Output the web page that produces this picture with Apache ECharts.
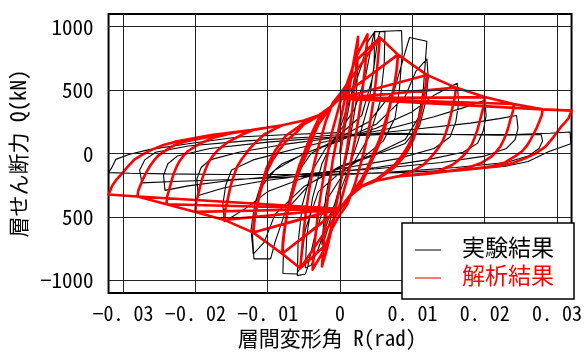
<!DOCTYPE html>
<html>
<head>
<meta charset="utf-8">
<script src="https://cdn.jsdelivr.net/npm/echarts@6/dist/echarts.min.js"></script>
<style>
  html, body { margin: 0; padding: 0; background: #fff; }
  #chart { width: 585px; height: 354px; }
</style>
</head>
<body>
<div id="chart"></div>
<script>
// 目盛り
var xTicks = [-0.03, -0.02, -0.01, 0, 0.01, 0.02, 0.03];
var xTickLabels = ['−0. 03', '−0. 02', '−0. 01', '0', '0. 01', '0. 02', '0. 03'];
var yTicks = [-1000, -500, 0, 500, 1000];
var yTickLabels = ['−1000', '500', '0', '500', '1000'];

// 実験結果 [R(rad), Q(kN)]  サイクルごと
var test1 = [[0, 0], [0.001, 300], [0.002, 600], [0.0025, 750], [0.0022, 400], [0.0012, 50], [0, -250], [-0.001, -450], [-0.002, -650], [-0.0025, -720], [-0.002, -350], [-0.001, -50], [0, 200]];
var test2 = [[0.0015, 450], [0.003, 700], [0.0038, 880], [0.0048, 962], [0.0047, 700], [0.004, 400], [0.0025, 100], [0.001, -150], [0, -300], [-0.0015, -500], [-0.003, -750], [-0.004, -880], [-0.0048, -900], [-0.0046, -650], [-0.0038, -350], [-0.0025, -80], [-0.001, 100], [0, 180]];
var test3 = [[0.002, 350], [0.0035, 600], [0.0045, 900], [0.0048, 962], [0.0062, 960], [0.0061, 700], [0.0055, 400], [0.004, 130], [0.002, -60], [0, -200], [-0.002, -380], [-0.0035, -650], [-0.0045, -900], [-0.0048, -950], [-0.0059, -962], [-0.0058, -700], [-0.0052, -400], [-0.004, -150], [-0.002, 40], [0, 150]];
var test4 = [[0.003, 300], [0.0045, 600], [0.0052, 900], [0.0055, 962], [0.0085, 970], [0.0086, 800], [0.0082, 500], [0.0076, 280], [0.006, 100], [0.003, -40], [0, -150], [-0.003, -300], [-0.0048, -600], [-0.0055, -900], [-0.006, -950], [-0.0079, -946], [-0.0078, -700], [-0.0072, -400], [-0.0062, -180], [-0.004, 0], [0, 130]];
var test5 = [[0.004, 250], [0.0075, 500], [0.009, 800], [0.0096, 915], [0.012, 885], [0.0118, 730], [0.0115, 500], [0.0108, 280], [0.009, 110], [0.005, 0], [0, -100], [-0.004, -230], [-0.0075, -450], [-0.009, -700], [-0.0096, -830], [-0.0119, -830], [-0.0121, -650], [-0.0117, -450], [-0.011, -270], [-0.009, -130], [-0.005, 0], [0, 100]];
var test6 = [[0.005, 230], [0.009, 450], [0.0105, 650], [0.012, 746], [0.0122, 600], [0.0118, 400], [0.011, 220], [0.009, 80], [0.004, -30], [0, -110], [-0.005, -260], [-0.009, -480], [-0.0105, -700], [-0.012, -792], [-0.0123, -600], [-0.0118, -400], [-0.0108, -220], [-0.008, -80], [-0.004, 20], [0, 110]];
var test7 = [[0.005, 200], [0.01, 330], [0.013, 460], [0.015, 520], [0.0162, 554], [0.0164, 400], [0.016, 250], [0.0152, 130], [0.013, 40], [0.008, -40], [0, -120], [-0.005, -190], [-0.01, -300], [-0.013, -430], [-0.016, -538], [-0.0162, -400], [-0.0158, -250], [-0.015, -130], [-0.012, -50], [-0.006, 40], [0, 120]];
var test8 = [[0.007, 200], [0.013, 290], [0.017, 360], [0.02, 420], [0.0202, 300], [0.0198, 180], [0.019, 80], [0.017, 10], [0.012, -50], [0.005, -110], [-0.003, -160], [-0.01, -210], [-0.016, -270], [-0.0196, -330], [-0.0198, -200], [-0.0192, -110], [-0.018, -50], [-0.014, 10], [-0.008, 70], [0, 130]];
var test9 = [[0.01, 190], [0.018, 240], [0.022, 275], [0.0244, 300], [0.0246, 200], [0.0242, 110], [0.023, 40], [0.02, -20], [0.014, -70], [0.005, -120], [-0.005, -160], [-0.015, -210], [-0.021, -255], [-0.0242, -290], [-0.0244, -170], [-0.0238, -80], [-0.0225, -20], [-0.018, 40], [-0.01, 90], [0, 135]];
var test10 = [[0.006, 150], [0.015, 150], [0.022, 145], [0.026, 148], [0.0278, 150], [0.028, 100], [0.0275, 40], [0.026, -20], [0.023, -70], [0.016, -110], [0.006, -150], [-0.005, -180], [-0.015, -205], [-0.023, -220], [-0.0274, -231], [-0.0277, -130], [-0.027, -50], [-0.0255, 10], [-0.021, 60], [-0.013, 100], [-0.004, 130], [0, 150]];
var test11 = [[0.008, 160], [0.016, 150], [0.024, 150], [0.029, 160], [0.0318, 170], [0.0319, 77], [0.0288, 15], [0.026, -62], [0.0229, -100], [0.016, -130], [0.008, -150], [0, -160], [-0.008, -165], [-0.016, -165], [-0.024, -160], [-0.029, -155], [-0.032, -150], [-0.0316, -115], [-0.031, -46], [-0.0292, -8], [-0.0264, 31], [-0.021, 77], [-0.0141, 130], [-0.007, 150], [0, 165]];

// 解析結果 [R(rad), Q(kN)]  サイクルごと
var ana1 = [[0, 0], [0.001, 400], [0.0018, 700], [0.0025, 920], [0.0022, 650], [0.0017, 350], [0.001, 50], [0, -250], [-0.001, -550], [-0.0018, -750], [-0.0025, -890], [-0.0022, -650], [-0.0017, -350], [-0.001, -50], [0, 250]];
var ana2 = [[0.001, 520], [0.002, 740], [0.0038, 940], [0.0035, 700], [0.003, 450], [0.0022, 150], [0.0012, -150], [0, -400], [-0.001, -540], [-0.002, -740], [-0.0038, -915], [-0.0035, -700], [-0.003, -450], [-0.0022, -150], [-0.0012, 150], [0, 400]];
var ana3 = [[0.001, 560], [0.002, 720], [0.0055, 915], [0.0053, 780], [0.005, 600], [0.0047, 450], [0.0043, 300], [0.004, 200], [0.0035, 60], [0.003, -50], [0.002, -250], [0.001, -400], [0, -480], [-0.001, -580], [-0.002, -720], [-0.0055, -905], [-0.0053, -780], [-0.005, -600], [-0.0047, -450], [-0.0043, -300], [-0.004, -200], [-0.0035, -60], [-0.003, 50], [-0.002, 250], [-0.001, 400], [0, 470]];
var ana4 = [[0.0055, 915], [0.008, 780], [0.0079, 690], [0.0077, 600], [0.0074, 500], [0.007, 400], [0.0066, 300], [0.0062, 200], [0.0056, 100], [0.005, 20], [0.004, -110], [0.003, -230], [0.0015, -330], [0, -440], [-0.0055, -905], [-0.008, -790], [-0.0079, -690], [-0.0077, -600], [-0.0074, -500], [-0.007, -400], [-0.0066, -300], [-0.0062, -200], [-0.0056, -90], [-0.005, 0], [-0.004, 150], [-0.003, 270], [-0.0015, 360], [0, 440]];
var ana4b = [[0.008, 780], [0.0078, 650], [0.0075, 540], [0.0071, 430], [0.0066, 320], [0.006, 200], [0.0053, 90], [0.0046, 0], [0.0038, -110], [0.003, -200], [0.0015, -320], [0, -430], [-0.008, -790], [-0.0078, -650], [-0.0075, -540], [-0.0071, -430], [-0.0066, -320], [-0.006, -200], [-0.0053, -90], [-0.0046, 0], [-0.0038, 120], [-0.003, 230], [-0.0015, 350], [0, 440]];
var ana5 = [[0.008, 780], [0.012, 620], [0.0119, 530], [0.0116, 450], [0.0113, 360], [0.011, 280], [0.0106, 200], [0.0102, 120], [0.0096, 50], [0.009, -10], [0.0082, -65], [0.0075, -110], [0.006, -170], [0.005, -210], [0.003, -260], [0.0015, -330], [0, -435], [-0.008, -790], [-0.012, -623], [-0.0119, -530], [-0.0116, -450], [-0.0113, -360], [-0.011, -280], [-0.0106, -200], [-0.0102, -120], [-0.0096, -45], [-0.009, 20], [-0.0082, 85], [-0.0075, 140], [-0.006, 200], [-0.005, 245], [-0.003, 300], [-0.0015, 360], [0, 435]];
var ana5b = [[0.012, 620], [0.0118, 520], [0.0115, 420], [0.0111, 320], [0.0106, 220], [0.01, 130], [0.0093, 50], [0.0085, -20], [0.0075, -90], [0.006, -160], [0.005, -205], [0.003, -255], [0.0015, -325], [0, -430], [-0.012, -623], [-0.0118, -520], [-0.0115, -420], [-0.0111, -320], [-0.0106, -220], [-0.01, -130], [-0.0093, -50], [-0.0085, 20], [-0.0075, 95], [-0.006, 170], [-0.005, 230], [-0.003, 295], [-0.0015, 355], [0, 435]];
var ana6 = [[0.012, 620], [0.016, 520], [0.0159, 450], [0.0156, 380], [0.0153, 300], [0.015, 230], [0.0146, 160], [0.0142, 100], [0.0136, 45], [0.013, 0], [0.0122, -50], [0.0115, -90], [0.01, -140], [0.008, -180], [0.005, -215], [0.003, -260], [0.0015, -330], [0, -435], [-0.012, -623], [-0.016, -523], [-0.0159, -450], [-0.0156, -380], [-0.0153, -300], [-0.015, -230], [-0.0146, -160], [-0.0142, -100], [-0.0136, -45], [-0.013, 0], [-0.0124, 45], [-0.0118, 80], [-0.0105, 150], [-0.009, 195], [-0.008, 223], [-0.005, 260], [-0.003, 300], [-0.0015, 360], [0, 435]];
var ana7 = [[0.016, 520], [0.02, 445], [0.0199, 380], [0.0196, 320], [0.0193, 250], [0.019, 190], [0.0186, 125], [0.0182, 70], [0.0176, 20], [0.017, -20], [0.0162, -60], [0.0155, -90], [0.0135, -140], [0.012, -160], [0.008, -180], [0.005, -215], [0.003, -260], [0.0015, -330], [0, -435], [-0.016, -523], [-0.02, -460], [-0.0199, -390], [-0.0196, -320], [-0.0193, -250], [-0.019, -190], [-0.0186, -125], [-0.0182, -70], [-0.0176, -20], [-0.017, 20], [-0.0162, 60], [-0.0155, 90], [-0.0135, 150], [-0.012, 185], [-0.008, 223], [-0.005, 260], [-0.003, 300], [-0.0015, 360], [0, 435]];
var ana8 = [[0.02, 445], [0.024, 390], [0.0239, 335], [0.0236, 280], [0.0233, 215], [0.023, 160], [0.0226, 105], [0.0222, 60], [0.0216, 15], [0.021, -20], [0.0195, -75], [0.0175, -115], [0.015, -140], [0.012, -160], [0.008, -180], [0.005, -215], [0.003, -260], [0.0015, -330], [0, -435], [-0.02, -460], [-0.024, -400], [-0.0239, -340], [-0.0236, -280], [-0.0233, -215], [-0.023, -160], [-0.0226, -105], [-0.0222, -60], [-0.0216, -15], [-0.021, 20], [-0.0195, 75], [-0.0175, 125], [-0.015, 160], [-0.012, 185], [-0.008, 223], [-0.005, 260], [-0.003, 300], [-0.0015, 360], [0, 435]];
var ana9 = [[0.024, 390], [0.028, 348], [0.0279, 305], [0.0276, 260], [0.0272, 205], [0.0268, 160], [0.0263, 105], [0.0258, 60], [0.0252, 20], [0.0245, -10], [0.0228, -70], [0.021, -100], [0.017, -130], [0.013, -150], [0.008, -180], [0.005, -215], [0.003, -260], [0.0015, -330], [0, -435], [-0.024, -400], [-0.028, -338], [-0.0279, -295], [-0.0276, -250], [-0.0272, -195], [-0.0268, -150], [-0.0263, -100], [-0.0258, -60], [-0.0252, -20], [-0.0245, 10], [-0.0228, 70], [-0.021, 100], [-0.017, 145], [-0.012, 185], [-0.008, 223], [-0.005, 260], [-0.003, 300], [-0.0015, 360], [0, 435]];
var ana10 = [[0.028, 348], [0.032, 338], [0.0316, 280], [0.0311, 245], [0.0305, 208], [0.0295, 130], [0.0284, 54], [0.027, 0], [0.0256, -38], [0.024, -72], [0.022, -100], [0.017, -130], [0.013, -150], [0.008, -180], [0.005, -215], [0.003, -260], [0.0015, -330], [0, -435], [-0.028, -338], [-0.032, -323], [-0.0315, -254], [-0.0309, -205], [-0.0301, -154], [-0.0293, -100], [-0.0284, -46], [-0.0272, -5], [-0.026, 31], [-0.0245, 65], [-0.0229, 92], [-0.0178, 146], [-0.0123, 185], [-0.008, 223], [-0.005, 260]];

var testLoops = [test1, test2, test3, test4, test5, test6, test7, test8, test9, test10, test11];
var anaLoops = [ana1, ana2, ana3, ana4, ana4b, ana5, ana5b, ana6, ana7, ana8, ana9, ana10];

function joinLoops(loops) {
  var out = [];
  loops.forEach(function (l) { out = out.concat(l); });
  return out;
}
function pickLabel(ticks, labels, v) {
  for (var i = 0; i < ticks.length; i++) {
    if (Math.abs(ticks[i] - v) < 1e-9) return labels[i];
  }
  return '';
}

var font = '"Noto Sans Mono CJK JP", "Noto Sans CJK JP", "Noto Sans", sans-serif';
var chart = echarts.init(document.getElementById('chart'), null, { renderer: 'canvas' });

var option = {
  animation: false,
  backgroundColor: '#fff',
  grid: {
    left: 106, top: 14, right: 11, bottom: 55,
    show: true, borderColor: '#000', borderWidth: 2, backgroundColor: 'transparent'
  },
  xAxis: {
    type: 'value',
    min: -0.032, max: 0.032,
    name: '層間変形角 R(rad)',
    nameLocation: 'middle',
    nameGap: 32,
    nameTextStyle: { fontFamily: font, fontSize: 21, color: '#000', padding: [0, 26, 0, 0] },
    axisLine: { show: false },
    axisTick: { show: false, customValues: xTicks },
    splitLine: { show: false },
    axisLabel: {
      customValues: xTicks,
      margin: 10,
      fontFamily: font, fontSize: 20, color: '#000',
      formatter: function (v) { return pickLabel(xTicks, xTickLabels, v); }
    }
  },
  yAxis: {
    type: 'value',
    min: -1100, max: 1100,
    name: '層せん断力 Q(kN)',
    nameLocation: 'middle',
    nameGap: 74,
    nameRotate: 90,
    nameTextStyle: { fontFamily: font, fontSize: 21, color: '#000' },
    axisLine: { show: false },
    axisTick: { show: false, customValues: yTicks },
    splitLine: { show: false },
    axisLabel: {
      customValues: yTicks,
      margin: 15,
      fontFamily: font, fontSize: 21, color: '#000',
      formatter: function (v) { return pickLabel(yTicks, yTickLabels, v); }
    }
  },
  series: [
    {
      // 目盛線
      type: 'line',
      data: [],
      z: 1,
      silent: true,
      markLine: {
        silent: true,
        symbol: 'none',
        label: { show: false },
        lineStyle: { color: '#222', width: 1, type: 'solid' },
        data: xTicks.map(function (v) { return { xAxis: v }; })
          .concat(yTicks.map(function (v) { return { yAxis: v }; }))
      }
    },
    {
      name: '実験結果',
      type: 'line',
      z: 2,
      data: joinLoops(testLoops),
      showSymbol: false,
      smooth: false,
      lineStyle: { color: '#000', width: 1.1 }
    },
    {
      name: '解析結果',
      type: 'line',
      z: 3,
      data: joinLoops(anaLoops),
      showSymbol: false,
      smooth: false,
      lineStyle: { color: '#ff0000', width: 2.6, join: 'round' }
    }
  ],
  graphic: [
    {
      type: 'rect', z: 100,
      shape: { x: 402, y: 223, width: 172, height: 76 },
      style: { fill: '#fff', stroke: '#000', lineWidth: 1.5 }
    },
    {
      type: 'line', z: 101,
      shape: { x1: 415, y1: 250, x2: 441, y2: 250 },
      style: { stroke: '#000', lineWidth: 1 }
    },
    {
      type: 'text', z: 101, left: 462, top: 236,
      style: { text: '実験結果', fill: '#000', font: '23px ' + font }
    },
    {
      type: 'line', z: 101,
      shape: { x1: 415, y1: 278, x2: 441, y2: 278 },
      style: { stroke: '#ff4a4a', lineWidth: 1.5 }
    },
    {
      type: 'text', z: 101, left: 462, top: 264,
      style: { text: '解析結果', fill: '#ff0000', font: '23px ' + font }
    }
  ]
};
chart.setOption(option);
</script>
</body>
</html>
